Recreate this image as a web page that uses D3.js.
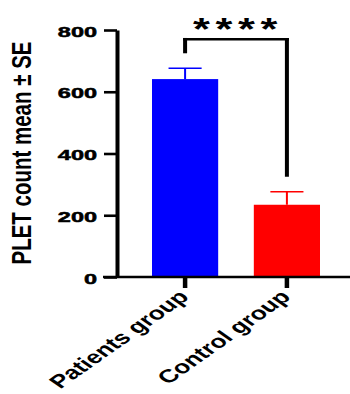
<!DOCTYPE html>
<html>
<head>
<meta charset="utf-8">
<script src="https://cdn.jsdelivr.net/npm/d3@7"></script>
<style>
  html, body { margin: 0; padding: 0; background: #fff; }
  svg { display: block; }
  text { font-family: "Liberation Sans", Arial, sans-serif; }
</style>
</head>
<body>
<svg id="chart" width="350" height="394"></svg>
<script>
// ---- data ----
const categories = ["Patients group", "Control group"];
const means = [641, 234];
const errors = [35, 42];
const colors = ["#0000ff", "#ff0000"];
const yTicks = [0, 200, 400, 600, 800];
const yTitle = "PLET count mean ± SE";
const sigLabel = "****";
const sigLevel = 770;

// ---- layout ----
const svg = d3.select("#chart");
const W = 350;
const axisX = 117, axisY0 = 277, axisYTop = 30;

const y = d3.scaleLinear().domain([0, 800]).range([axisY0, axisYTop]);
const x = d3.scaleBand().domain(categories).range([152, 320]).paddingInner(0.35).paddingOuter(0);

const data = categories.map((c, i) => ({ cat: c, mean: means[i], se: errors[i], color: colors[i] }));

// bars
svg.append("g").selectAll("rect").data(data).join("rect")
  .attr("x", d => x(d.cat))
  .attr("y", d => y(d.mean))
  .attr("width", x.bandwidth())
  .attr("height", d => y(0) - y(d.mean))
  .attr("fill", d => d.color);

// error bars (upper only)
const eb = svg.append("g").selectAll("g").data(data).join("g");
eb.append("line")
  .attr("x1", d => x(d.cat) + x.bandwidth() / 2)
  .attr("x2", d => x(d.cat) + x.bandwidth() / 2)
  .attr("y1", d => y(d.mean))
  .attr("y2", d => y(d.mean + d.se))
  .attr("stroke", d => d.color).attr("stroke-width", 2);
eb.append("line")
  .attr("x1", d => x(d.cat) + x.bandwidth() / 4)
  .attr("x2", d => x(d.cat) + x.bandwidth() * 3 / 4)
  .attr("y1", d => y(d.mean + d.se))
  .attr("y2", d => y(d.mean + d.se))
  .attr("stroke", d => d.color).attr("stroke-width", 1.6);

// y axis
const yAxis = svg.append("g")
  .attr("transform", `translate(${axisX},0)`)
  .call(d3.axisLeft(y).tickValues(yTicks).tickSize(13).tickSizeOuter(0).tickFormat(d3.format("d")));
yAxis.select(".domain").attr("stroke", "#000").attr("stroke-width", 4);
yAxis.selectAll(".tick line").attr("stroke", "#000").attr("stroke-width", 2.6);
yAxis.selectAll(".tick text")
  .attr("x", 0).attr("dy", "0.36em")
  .attr("transform", "translate(-20,1) scale(1.62,1)")
  .attr("font-size", 14.5).attr("font-weight", "bold").attr("fill", "#000")
  .attr("stroke", "#000").attr("stroke-width", 0.5);

// x axis
svg.append("line")
  .attr("x1", 103).attr("x2", W)
  .attr("y1", axisY0).attr("y2", axisY0)
  .attr("stroke", "#000").attr("stroke-width", 2.6);
const xAxis = svg.append("g")
  .attr("transform", `translate(0,${axisY0})`)
  .call(d3.axisBottom(x).tickSize(11).tickSizeOuter(0));
xAxis.select(".domain").remove();
xAxis.selectAll(".tick line").attr("stroke", "#000").attr("stroke-width", 4.5);
xAxis.selectAll(".tick text")
  .attr("x", 0).attr("y", 0).attr("dy", 0)
  .attr("text-anchor", "end")
  .attr("transform", "translate(5,21) scale(1.42,1) rotate(-45)")
  .attr("font-size", 18.5).attr("font-weight", "bold").attr("fill", "#000");

// y title
svg.append("text")
  .attr("transform", `translate(31,153) scale(1.36,1) rotate(-90)`)
  .attr("text-anchor", "middle")
  .attr("font-size", 20.5).attr("font-weight", "bold").attr("fill", "#000")
  .text(yTitle);

// significance bracket
const bx0 = x(categories[0]) + x.bandwidth() / 2;
const bx1 = x(categories[1]) + x.bandwidth() / 2;
const by = y(sigLevel);
const leg0 = y(means[0] + errors[0]) - 15;
const leg1 = y(means[1] + errors[1]) - 15;
const br = svg.append("g").attr("stroke", "#000");
br.append("line").attr("x1", bx0).attr("x2", bx0).attr("y1", by - 1.3).attr("y2", leg0).attr("stroke-width", 4);
br.append("line").attr("x1", bx1).attr("x2", bx1).attr("y1", by - 1.3).attr("y2", leg1).attr("stroke-width", 4);
br.append("line").attr("x1", bx0 - 2).attr("x2", bx1 + 2).attr("y1", by).attr("y2", by).attr("stroke-width", 2.6);

svg.append("text")
  .attr("transform", `translate(${(bx0 + bx1) / 2 + 2},40) scale(1.4,1)`)
  .attr("text-anchor", "middle")
  .attr("font-size", 31).attr("font-weight", "bold").attr("letter-spacing", 4).attr("fill", "#000")
  .text(sigLabel);
</script>
</body>
</html>
